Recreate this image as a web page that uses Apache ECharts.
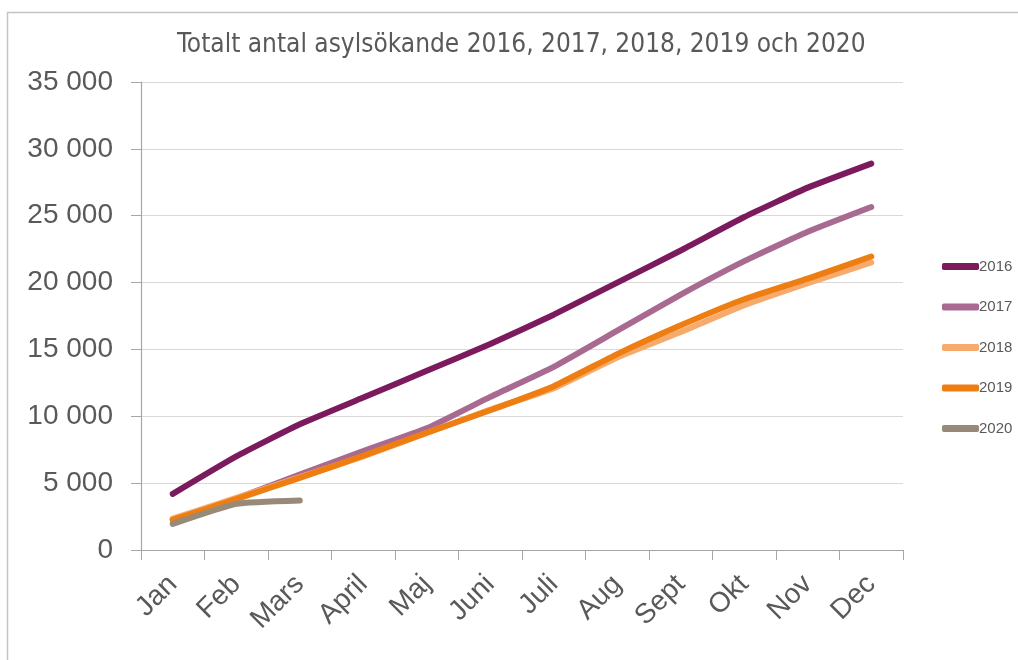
<!DOCTYPE html>
<html>
<head>
<meta charset="utf-8">
<script src="https://cdn.jsdelivr.net/npm/echarts@6/dist/echarts.min.js"></script>
<style>
  html, body { margin: 0; padding: 0; background: #fff; }
  #chart { width: 1018px; height: 660px; }
</style>
</head>
<body>
<div id="chart"></div>
<script>
const months = ['Jan', 'Feb', 'Mars', 'April', 'Maj', 'Juni', 'Juli', 'Aug', 'Sept', 'Okt', 'Nov', 'Dec']
const years = ['2016', '2017', '2018', '2019', '2020']

// kumulativt antal asylsökande per månad
const data2016 = [4200, 7000, 9400, 11400, 13400, 15400, 17600, 20000, 22400, 24900, 27100, 28900]
const data2017 = [2250, 3850, 5650, 7400, 9100, 11450, 13700, 16400, 19100, 21600, 23800, 25650]
const data2018 = [2350, 3900, 5450, 7000, 8750, 10500, 12100, 14400, 16300, 18300, 19950, 21500]
const data2019 = [2250, 3800, 5400, 7050, 8770, 10450, 12250, 14650, 16800, 18750, 20300, 21950]
const data2020 = [1950, 3450, 3700]

const colors = ['#7b1a5d', '#a96a92', '#f6ab6c', '#ee7d12', '#978a79']
const seriesData = [data2016, data2017, data2018, data2019, data2020]

const textColor = '#595959'

const chart = echarts.init(document.getElementById('chart'))
chart.setOption({
  animation: false,
  title: {
    text: 'Totalt antal asylsökande 2016, 2017, 2018, 2019 och 2020',
    left: 172,
    top: 27,
    textStyle: { color: textColor, fontFamily: 'Liberation Sans Narrow, DejaVu Sans Condensed, sans-serif', fontSize: 26, fontWeight: 'normal' }
  },
  graphic: [{
    type: 'rect',
    shape: { x: 7.5, y: 12.5, width: 1100, height: 700 },
    style: { fill: 'none', stroke: '#c4c4c4', lineWidth: 1.5 },
    silent: true
  }],
  legend: {
    orient: 'vertical',
    left: 937,
    top: 254,
    itemWidth: 37,
    itemHeight: 7,
    itemGap: 25.5,
    icon: 'roundRect',
    textStyle: { color: textColor, fontFamily: 'Liberation Sans, Arial, sans-serif', fontSize: 15, padding: [0, 0, 0, -5] },
    data: years
  },
  grid: { left: 141, right: 115, top: 82, bottom: 110 },
  xAxis: {
    type: 'category',
    data: months,
    boundaryGap: true,
    axisLine: { lineStyle: { color: '#a6a6a6', width: 1.2 } },
    axisTick: { show: true, length: 10, lineStyle: { color: '#a6a6a6' } },
    axisLabel: { rotate: 45, margin: 30, color: textColor, fontFamily: 'Liberation Sans, Arial, sans-serif', fontSize: 28 }
  },
  yAxis: {
    type: 'value',
    min: 0,
    max: 35000,
    interval: 5000,
    axisLine: { show: true, lineStyle: { color: '#a6a6a6', width: 1.2 } },
    axisTick: { show: true, length: 10, lineStyle: { color: '#a6a6a6' } },
    splitLine: { lineStyle: { color: '#d9d9d9', width: 1.2 } },
    axisLabel: {
      margin: 28,
      color: textColor,
      fontFamily: 'Liberation Sans, Arial, sans-serif',
      fontSize: 28,
      formatter: v => String(v).replace(/\B(?=(\d{3})+(?!\d))/g, ' ')
    }
  },
  series: years.map((y, i) => ({
    name: y,
    type: 'line',
    data: seriesData[i],
    smooth: 0.15,
    showSymbol: false,
    symbol: 'none',
    color: colors[i],
    lineStyle: { width: 6, color: colors[i], cap: 'round', join: 'round' },
    z: 2 + i
  }))
})
</script>
</body>
</html>
